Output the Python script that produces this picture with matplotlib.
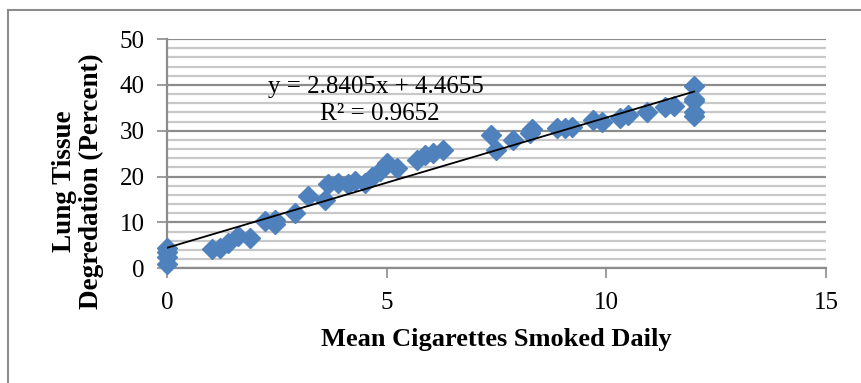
import matplotlib
matplotlib.use('Agg')
import matplotlib.pyplot as plt
from matplotlib.lines import Line2D
from matplotlib.ticker import MultipleLocator

# Data
cigs = [0, 0, 0, 0, 1.02, 1.2, 1.4, 1.62, 1.89, 2.23, 2.46, 2.46, 2.91,
        3.22, 3.6, 3.67, 3.9, 4.13, 4.28, 4.5, 4.66, 4.85, 5.0, 5.23,
        5.68, 5.87, 6.06, 6.29, 7.37, 7.5, 7.88, 8.26, 8.3, 8.87, 9.06,
        9.21, 9.7, 9.9, 10.31, 10.5, 10.92, 11.33, 11.55, 12, 12, 12, 12, 12]
degradation = [4.5, 3.5, 2.5, 1.0, 4.1, 4.5, 5.6, 7.0, 6.7, 10.3, 10.6, 9.6,
               12.1, 15.7, 15.0, 18.3, 18.6, 18.3, 19.0, 18.6, 20.0, 21.2,
               23.0, 21.9, 23.7, 24.8, 25.1, 25.9, 29.1, 25.9, 28.0, 29.5,
               30.3, 30.6, 30.6, 30.9, 32.4, 32.0, 32.7, 33.5, 34.1, 35.1,
               35.5, 39.8, 37.0, 36.4, 34.0, 33.3]

slope = 2.8405
intercept = 4.4655
r_squared = 0.9652
trend_x = [0, 12]

x_ticks = [0, 5, 10, 15]
y_ticks = [0, 10, 20, 30, 40, 50]

BLUE = '#4F81BD'
plt.rcParams['font.family'] = ['Liberation Serif', 'DejaVu Serif']

fig = plt.figure(figsize=(8.62, 3.83), dpi=100)
ax = fig.add_axes([0.1937, 0.2995, 0.7645, 0.5985])

ax.set_xlim(0, 15)
ax.set_ylim(0, 50)
ax.set_xticks(x_ticks)
ax.set_yticks(y_ticks)
ax.yaxis.set_minor_locator(MultipleLocator(2))

ax.grid(True, which='minor', axis='y', color='#c8c8c8', linewidth=1.6, zorder=0)
ax.grid(True, which='major', axis='y', color='#8c8c8c', linewidth=1.6, zorder=0)
ax.tick_params(axis='y', which='minor', length=0)
ax.tick_params(axis='both', which='major', length=7, width=1.2, color='#8c8c8c',
               labelsize=18)
ax.tick_params(axis='x', pad=10)
ax.tick_params(axis='y', pad=9)

for side in ['top', 'right']:
    ax.spines[side].set_visible(False)
for side in ['left', 'bottom']:
    ax.spines[side].set_color('#8c8c8c')
    ax.spines[side].set_linewidth(1.6)

ax.plot(cigs, degradation, linestyle='none', marker='D', markersize=10.5,
        color=BLUE, markeredgecolor=BLUE, zorder=3, clip_on=False)
ax.plot(trend_x, [slope * v + intercept for v in trend_x], color='black',
        linewidth=1.3, zorder=4)

ax.text(4.76, 39.6, f'y = {slope}x + {intercept}', fontsize=18, ha='center',
        va='center', zorder=5)
ax.text(4.85, 33.6, f'R² = {r_squared}', fontsize=18, ha='center',
        va='center', zorder=5)

ax.set_xlabel('Mean Cigarettes Smoked Daily', fontsize=19, fontweight='bold',
              labelpad=10)
ax.set_ylabel('Lung Tissue\nDegredation (Percent)', fontsize=19.5,
              fontweight='bold', linespacing=1.05, va='center')
ax.yaxis.set_label_coords(-0.135, 0.38)

# outer frame of the screenshot
fig.add_artist(Line2D([0.0093, 0.0093], [0, 0.974], color='#8c8c8c',
                      linewidth=1.5, transform=fig.transFigure))
fig.add_artist(Line2D([0.0093, 1], [0.974, 0.974], color='#8c8c8c',
                      linewidth=1.5, transform=fig.transFigure))

fig.savefig('out.png', dpi=100)
